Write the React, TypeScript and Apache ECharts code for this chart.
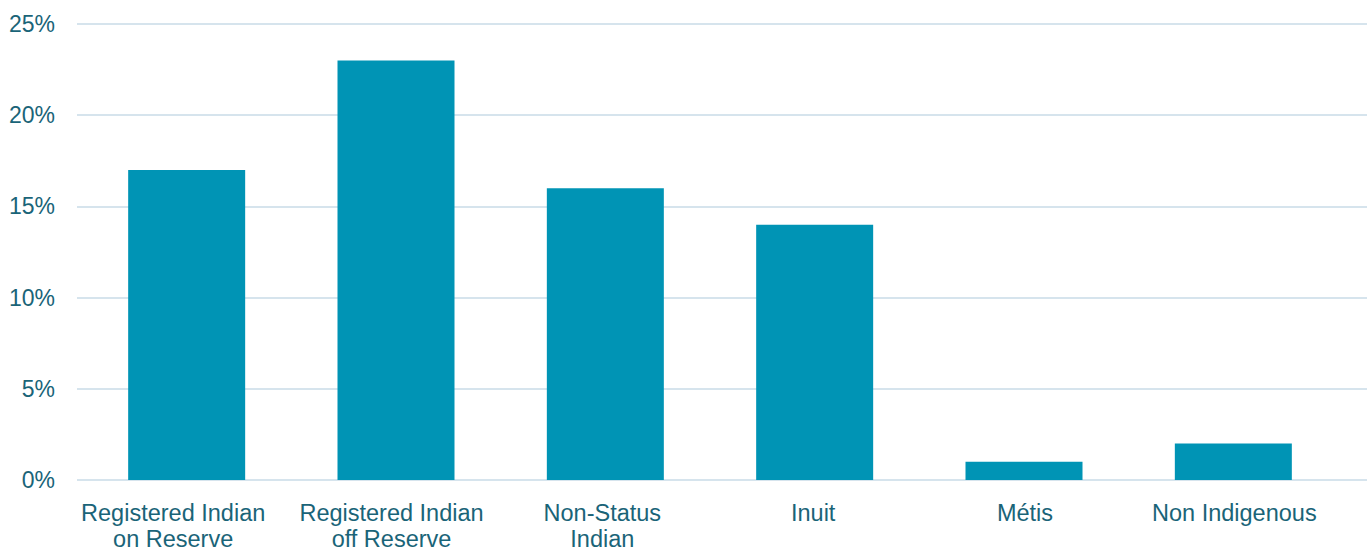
import React, { useEffect, useRef } from "react";
import * as echarts from "echarts";

const categories = [
  "Registered Indian\non Reserve",
  "Registered Indian\noff Reserve",
  "Non-Status\nIndian",
  "Inuit",
  "Métis",
  "Non Indigenous",
];
const values = [17, 23, 16, 14, 1, 2];
const yTicks = [0, 5, 10, 15, 20, 25];

const TEXT = "#1a6478";
const FONT = "Liberation Sans, Arial, sans-serif";
// small horizontal nudges of the category labels (px, negative = left)
const labelShift = [-13.5, -4.5, -3, -1.5, 1, 1];

export default function App() {
  const ref = useRef<HTMLDivElement>(null);
  useEffect(() => {
    document.body.style.margin = "0";
    if (!ref.current) return;
    const chart = echarts.init(ref.current, undefined, { renderer: "svg" });
    const rich: Record<string, any> = {};
    labelShift.forEach((s, i) => {
      rich["s" + i] = {
        color: TEXT,
        fontSize: 23.5,
        fontFamily: FONT,
        lineHeight: 26,
        padding: s < 0 ? [0, -2 * s, 0, 0] : [0, 0, 0, 2 * s],
      };
    });
    chart.setOption({
      animation: false,
      grid: [
        { left: 82, right: 34, top: 24, bottom: 72, outerBoundsMode: "none", containLabel: false },
        { left: 77, right: 5, top: 24, bottom: 72, outerBoundsMode: "none", containLabel: false },
      ],
      xAxis: [
        {
          type: "category",
          gridIndex: 0,
          data: categories,
          axisLine: { show: false },
          axisTick: { show: false },
          axisLabel: {
            color: TEXT,
            fontSize: 23.5,
            fontFamily: FONT,
            lineHeight: 26,
            margin: 20,
            interval: 0,
            formatter: (v: string, i: number) =>
              v
                .split("\n")
                .map((line) => `{s${i}|${line}}`)
                .join("\n"),
            rich,
          },
        },
        {
          type: "category",
          gridIndex: 1,
          data: ["a"],
          show: false,
        },
      ],
      yAxis: [
        {
          type: "value",
          gridIndex: 0,
          min: 0,
          max: 25,
          interval: 5,
          show: false,
          splitLine: { show: false },
        },
        {
          type: "value",
          gridIndex: 1,
          min: yTicks[0],
          max: yTicks[yTicks.length - 1],
          interval: 5,
          axisLine: { show: false },
          axisTick: { show: false },
          axisLabel: {
            formatter: "{value}%",
            color: TEXT,
            fontSize: 23,
            fontFamily: FONT,
            margin: 22,
          },
          splitLine: { lineStyle: { color: "#c9dbe7", width: 1.5 } },
        },
      ],
      series: [
        {
          type: "bar",
          xAxisIndex: 0,
          yAxisIndex: 0,
          data: values,
          barWidth: 117,
          itemStyle: { color: "#0094b5" },
          z: 3,
        },
      ],
    });
    return () => chart.dispose();
  }, []);
  return (
    <div
      ref={ref}
      style={{ position: "absolute", left: 0, top: 0, width: 1372, height: 552 }}
    />
  );
}
